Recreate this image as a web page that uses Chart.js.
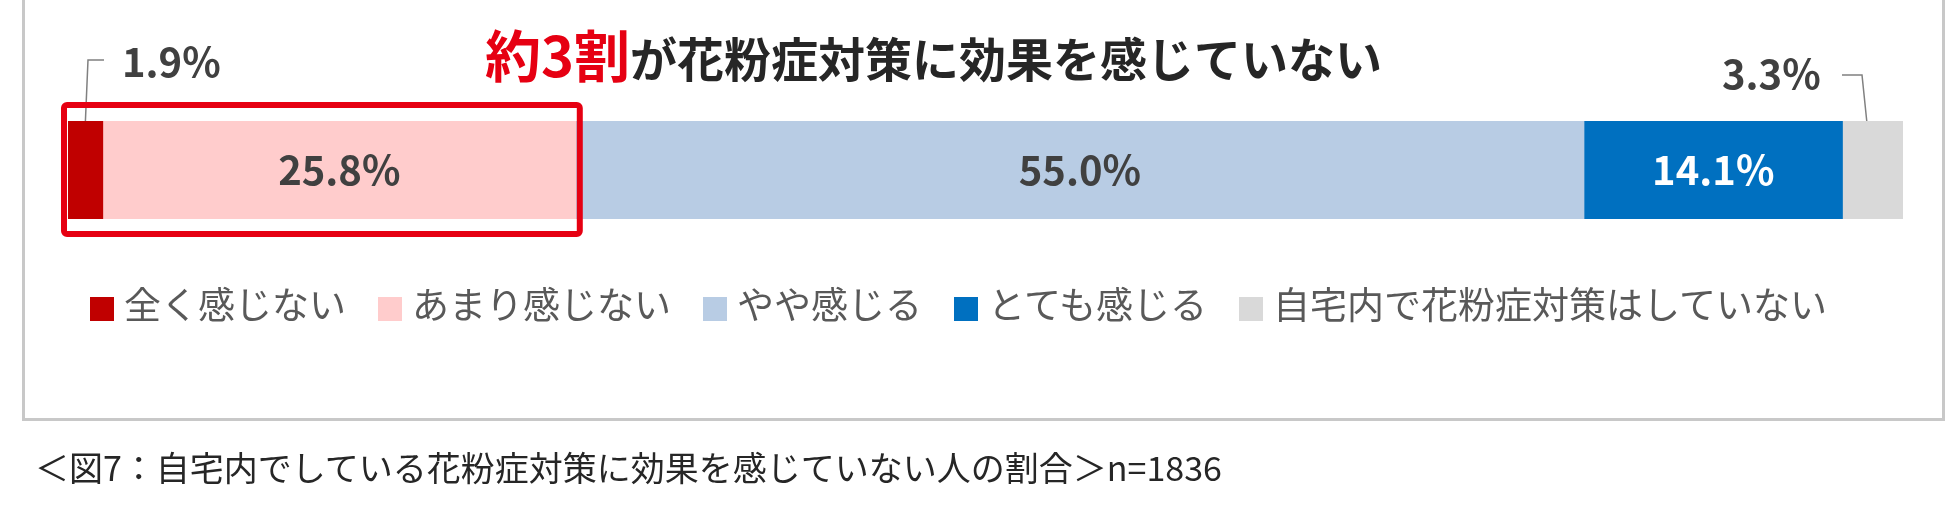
<!DOCTYPE html>
<html>
<head>
<meta charset="utf-8">
<script src="https://cdn.jsdelivr.net/npm/chart.js@4.4.0/dist/chart.umd.min.js"></script>
<style>
  body { margin: 0; background: #fff; width: 1950px; height: 515px; overflow: hidden; font-family: "Noto Sans CJK JP", sans-serif; }
  #frame { position: absolute; left: 22px; top: -3px; width: 1923px; height: 424px; border: 3px solid #c8c8c8; box-sizing: border-box; }
  #wrap { position: absolute; left: 0; top: 0; width: 1950px; height: 515px; }
  #title { position: absolute; left: 485px; top: 12px; font-weight: bold; font-size: 47px; color: #262626; white-space: nowrap; }
  #title span { color: #e60012; font-size: 56px; }
  #legend { position: absolute; left: 90px; top: 276px; display: flex; font-size: 37px; color: #595959; white-space: nowrap; }
  #legend div { display: flex; align-items: center; margin-right: 32px; }
  #legend i { display: inline-block; width: 24px; height: 24px; margin-right: 10px; margin-top: 12px; }
  #caption { position: absolute; left: 35px; top: 442px; font-size: 34px; color: #262626; white-space: nowrap; }
</style>
</head>
<body>
<div id="frame"></div>
<div id="wrap"><canvas id="c" width="1950" height="515"></canvas></div>
<div id="title"><span>約3割</span>が花粉症対策に効果を感じていない</div>
<div id="legend"></div>
<div id="caption">＜図7：自宅内でしている花粉症対策に効果を感じていない人の割合＞n=1836</div>
<script>
const categories = ['全く感じない', 'あまり感じない', 'やや感じる', 'とても感じる', '自宅内で花粉症対策はしていない'];
const values = [1.9, 25.8, 55.0, 14.1, 3.3];
const colors = ['#c00000', '#ffcccc', '#b8cce4', '#0070c0', '#d9d9d9'];
const labelColors = ['#404040', '#404040', '#404040', '#ffffff', '#404040'];

const legend = document.getElementById('legend');
categories.forEach((c, i) => {
    const d = document.createElement('div');
    d.innerHTML = '<i style="background:' + colors[i] + '"></i>' + c;
    legend.appendChild(d);
});

const overlay = {
    id: 'overlay',
    afterDatasetsDraw(chart) {
        const ctx = chart.ctx;
        const x = chart.scales.x;
        const top = chart.chartArea.top, bottom = chart.chartArea.bottom;
        const mid = (top + bottom) / 2;
        let acc = 0;
        ctx.save();
        ctx.font = 'bold 40px "Noto Sans CJK JP"';
        ctx.textBaseline = 'middle';
        values.forEach((v, i) => {
            const x0 = x.getPixelForValue(acc);
            const x1 = x.getPixelForValue(acc + v);
            acc += v;
            const t = v.toFixed(1) + '%';
            ctx.fillStyle = labelColors[i];
            if (i === 0) {
                ctx.textAlign = 'left';
                ctx.fillText(t, 122, 62);
                ctx.strokeStyle = '#808080'; ctx.lineWidth = 1.5;
                ctx.beginPath(); ctx.moveTo(104, 60); ctx.lineTo(88, 60); ctx.lineTo((x0 + x1) / 2, top); ctx.stroke();
            } else if (i === 4) {
                ctx.textAlign = 'left';
                ctx.fillText(t, 1722, 74);
                ctx.strokeStyle = '#808080'; ctx.lineWidth = 1.5;
                ctx.beginPath(); ctx.moveTo(1842, 75); ctx.lineTo(1862, 75); ctx.lineTo((x0 + x1) / 2 - 6, top); ctx.stroke();
            } else {
                ctx.textAlign = 'center';
                ctx.fillText(t, (x0 + x1) / 2, mid);
            }
        });
        // highlight box around the first two segments
        ctx.strokeStyle = '#e60012';
        ctx.lineWidth = 6;
        const bx0 = x.getPixelForValue(0) - 4;
        const bx1 = x.getPixelForValue(values[0] + values[1]) + 4;
        ctx.beginPath();
        ctx.roundRect(bx0, top - 16, bx1 - bx0, bottom - top + 31, 3);
        ctx.stroke();
        ctx.restore();
    }
};

new Chart(document.getElementById('c'), {
    type: 'bar',
    data: {
        labels: [''],
        datasets: categories.map((c, i) => ({
            label: c,
            data: [values[i]],
            backgroundColor: colors[i],
            barPercentage: 1,
            categoryPercentage: 1
        }))
    },
    options: {
        indexAxis: 'y',
        responsive: false,
        animation: false,
        layout: { padding: { left: 68, right: 47, top: 121, bottom: 296 } },
        scales: {
            x: { stacked: true, min: 0, max: 100.1, display: false },
            y: { stacked: true, display: false }
        },
        plugins: { legend: { display: false }, tooltip: { enabled: false } }
    },
    plugins: [overlay]
});
</script>
</body>
</html>
